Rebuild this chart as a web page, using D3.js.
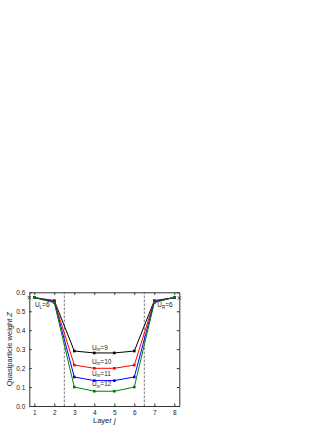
<!DOCTYPE html>
<html lang="en">
<head>
<meta charset="utf-8">
<style>
  body { margin: 0; background: white; }
  svg { background: white; display: block; }
  text { font-family: "Liberation Sans", Arial, sans-serif; fill: #222; }
  .axis path, .axis line { stroke: #333; stroke-width: 1px; fill: none; }
  .tick text { font-size: 6.5px; }
  .series { fill: none; stroke-width: 1px; }
  .divider { stroke: #555; stroke-width: 0.8px; stroke-dasharray: 2.5,1.5; }
</style>
<script src="https://d3js.org/d3.v7.min.js"></script>
</head>
<body>
<script>
var width = 332,
    height = 430;

// layer index j
var layers = [1, 2, 3, 4, 5, 6, 7, 8];

// quasiparticle weight Z per layer, one list per central U_m
var z9  = [0.572, 0.556, 0.290, 0.280, 0.280, 0.290, 0.556, 0.572];
var z10 = [0.572, 0.553, 0.216, 0.199, 0.199, 0.216, 0.553, 0.572];
var z11 = [0.572, 0.550, 0.153, 0.134, 0.134, 0.153, 0.550, 0.572];
var z12 = [0.572, 0.545, 0.100, 0.078, 0.078, 0.100, 0.545, 0.574];

var seriesNames = ["9", "10", "11", "12"];
var seriesColors = ["#000000", "#ff0000", "#0000ff", "#008000"];

// bulk value of the leads (the x marks on the frame)
var bulkX = [0.75, 8.25];
var bulkZ = [0.572, 0.570];

// interface positions
var interfaces = [2.5, 6.5];

var xTicks = [1, 2, 3, 4, 5, 6, 7, 8];
var yTicks = [0.0, 0.1, 0.2, 0.3, 0.4, 0.5, 0.6];

var svg = d3.select("body").append("svg")
    .attr("width", width)
    .attr("height", height);

var x = d3.scaleLinear().domain([0.75, 8.25]).range([29.3, 179.3]);
var y = d3.scaleLinear().domain([0, 0.6]).range([406, 292.3]);

// dashed interface lines
svg.selectAll(".divider")
    .data(interfaces)
    .enter().append("line")
    .attr("class", "divider")
    .attr("x1", function(d) { return x(d); })
    .attr("x2", function(d) { return x(d); })
    .attr("y1", y(0))
    .attr("y2", y(0.6));

// axes, ticks pointing inward
svg.append("g").attr("class", "axis")
    .attr("transform", "translate(0," + y(0) + ")")
    .call(d3.axisBottom(x).tickValues(xTicks).tickSizeInner(-2.5).tickSizeOuter(0).tickPadding(4.5).tickFormat(d3.format("d")));
svg.append("g").attr("class", "axis")
    .attr("transform", "translate(0," + y(0.6) + ")")
    .call(d3.axisTop(x).tickValues(xTicks).tickSizeInner(-2.5).tickSizeOuter(0).tickFormat(""));
svg.append("g").attr("class", "axis")
    .attr("transform", "translate(" + x(0.75) + ",0)")
    .call(d3.axisLeft(y).tickValues(yTicks).tickSizeInner(-2.5).tickSizeOuter(0).tickPadding(4).tickFormat(d3.format(".1f")));
svg.append("g").attr("class", "axis")
    .attr("transform", "translate(" + x(8.25) + ",0)")
    .call(d3.axisRight(y).tickValues(yTicks).tickSizeInner(-2.5).tickSizeOuter(0).tickFormat(""));

// lines + markers
var all = [z9, z10, z11, z12];
var line = d3.line()
    .x(function(d, i) { return x(layers[i]); })
    .y(function(d) { return y(d); });

all.forEach(function(vals, k) {
    svg.append("path")
        .datum(vals)
        .attr("class", "series")
        .attr("stroke", seriesColors[k])
        .attr("d", line);
    svg.selectAll(".m" + k)
        .data(vals)
        .enter().append("rect")
        .attr("class", "m" + k)
        .attr("x", function(d, i) { return x(layers[i]) - 1.3; })
        .attr("y", function(d) { return y(d) - 1.3; })
        .attr("width", 2.6)
        .attr("height", 2.6)
        .attr("fill", seriesColors[k]);
});

// bulk x marks
svg.selectAll(".bulk")
    .data(bulkX)
    .enter().append("path")
    .attr("class", "bulk")
    .attr("d", function(d, i) {
        var cx = x(d), cy = y(bulkZ[i]), s = 1.6;
        return "M" + (cx - s) + "," + (cy - s) + "L" + (cx + s) + "," + (cy + s) +
               "M" + (cx - s) + "," + (cy + s) + "L" + (cx + s) + "," + (cy - s);
    })
    .attr("stroke", "#333")
    .attr("stroke-width", 0.9);

// U_m labels
var labelZ = [0.297, 0.224, 0.160, 0.105];
seriesNames.forEach(function(n, k) {
    var t = svg.append("text")
        .attr("x", x(3.88))
        .attr("y", y(labelZ[k]))
        .style("font-size", "6.5px");
    t.append("tspan").text("U");
    t.append("tspan").attr("dy", 1.5).style("font-size", "4.5px").text("m");
    t.append("tspan").attr("dy", -1.5).text("=" + n);
});

// lead labels
var leadNames = ["L", "R"];
var leadX = [1.03, 7.15];
leadNames.forEach(function(n, k) {
    var t = svg.append("text")
        .attr("x", x(leadX[k]))
        .attr("y", y(0.52))
        .style("font-size", "6.5px");
    t.append("tspan").text("U");
    t.append("tspan").attr("dy", 1.5).style("font-size", "4.5px").text(n);
    t.append("tspan").attr("dy", -1.5).text("=6");
});

// axis titles
var xt = svg.append("text")
    .attr("x", x(4.5))
    .attr("y", 422.5)
    .attr("text-anchor", "middle")
    .style("font-size", "7.5px");
xt.append("tspan").text("Layer  ");
xt.append("tspan").style("font-style", "italic").text("j");

var yt = svg.append("text")
    .attr("transform", "translate(11.5," + y(0.3) + ") rotate(-90)")
    .attr("text-anchor", "middle")
    .style("font-size", "7.5px");
yt.append("tspan").text("Quasiparticle weight  ");
yt.append("tspan").style("font-style", "italic").text("Z");
</script>
</body>
</html>
